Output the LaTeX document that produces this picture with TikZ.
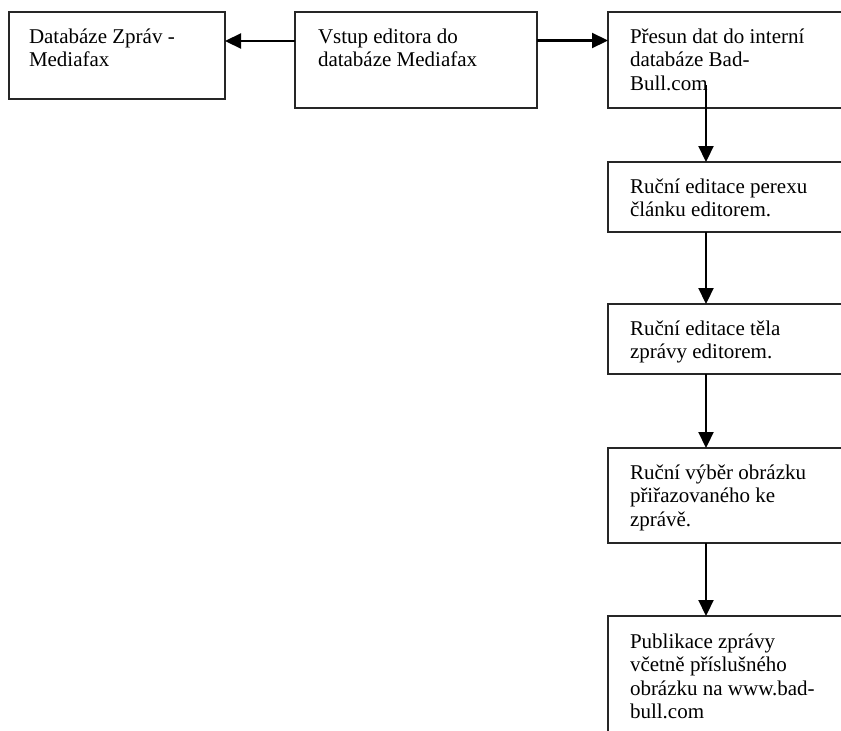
\documentclass[tikz,border=0pt]{standalone}
\usepackage{fontspec}
\setmainfont{Liberation Serif}
\usetikzlibrary{arrows.meta}
\tikzset{
  box/.style={draw=black!85, line width=1.1pt, rectangle, inner sep=0pt, outer sep=0pt, anchor=north west},
  txt/.style={inner sep=0pt, outer sep=0pt, anchor=base west, align=left, font=\fontsize{21}{23.5}\selectfont},
  conn/.style={draw=black, line width=2.2pt, -{Triangle[length=16pt,width=15pt]}}
}
\begin{document}
\begin{tikzpicture}[x=1pt,y=-1pt]
\useasboundingbox (0,0) rectangle (841,731);
\clip (0,0) rectangle (841,731);
\fill[white] (0,0) rectangle (841,731);
% boxes
\node[box, minimum width=216pt, minimum height=87pt] (b1) at (9,12) {};
\node[box, minimum width=242pt, minimum height=96pt] (b2) at (295,12) {};
\node[box, minimum width=242pt, minimum height=96pt] (b3) at (608,12) {};
\node[box, minimum width=242pt, minimum height=70pt] (b4) at (608,162) {};
\node[box, minimum width=242pt, minimum height=70pt] (b5) at (608,304) {};
\node[box, minimum width=242pt, minimum height=95pt] (b6) at (608,448) {};
\node[box, minimum width=242pt, minimum height=150pt] (b7) at (608,616) {};
% texts (anchored at the baseline of their last line)
\node[txt] (t1) at (29,66.5) {Databáze Zpráv -\\Mediafax};
\node[txt] (t2) at (318,66.5) {Vstup editora do\\databáze Mediafax};
\node[txt] (t3) at (630,90) {Přesun dat do interní\\databáze Bad-\\Bull.com};
\node[txt] (t4) at (630,216.5) {Ruční editace perexu\\článku editorem.};
\node[txt] (t5) at (630,358.5) {Ruční editace těla\\zprávy editorem.};
\node[txt] (t6) at (630,526) {Ruční výběr obrázku\\přiřazovaného ke\\zprávě.};
\node[txt] (t7) at (630,718.5) {Publikace zprávy\\včetně příslušného\\obrázku na www.bad-\\bull.com};
% connector anchors
\coordinate (hl) at (296,41);
\coordinate (hr) at (537,40.5);
\coordinate (v3) at (706,85);
\coordinate (vx) at (706,0);
% connectors
\draw[conn] (b2.west |- hl) -- (b1.east |- hl);
\draw[conn] (b2.east |- hr) -- (b3.west |- hr);
\draw[conn] (v3) -- (b4.north -| vx);
\draw[conn] (b4.south -| vx) -- (b5.north -| vx);
\draw[conn] (b5.south -| vx) -- (b6.north -| vx);
\draw[conn] (b6.south -| vx) -- (b7.north -| vx);
\end{tikzpicture}
\end{document}
